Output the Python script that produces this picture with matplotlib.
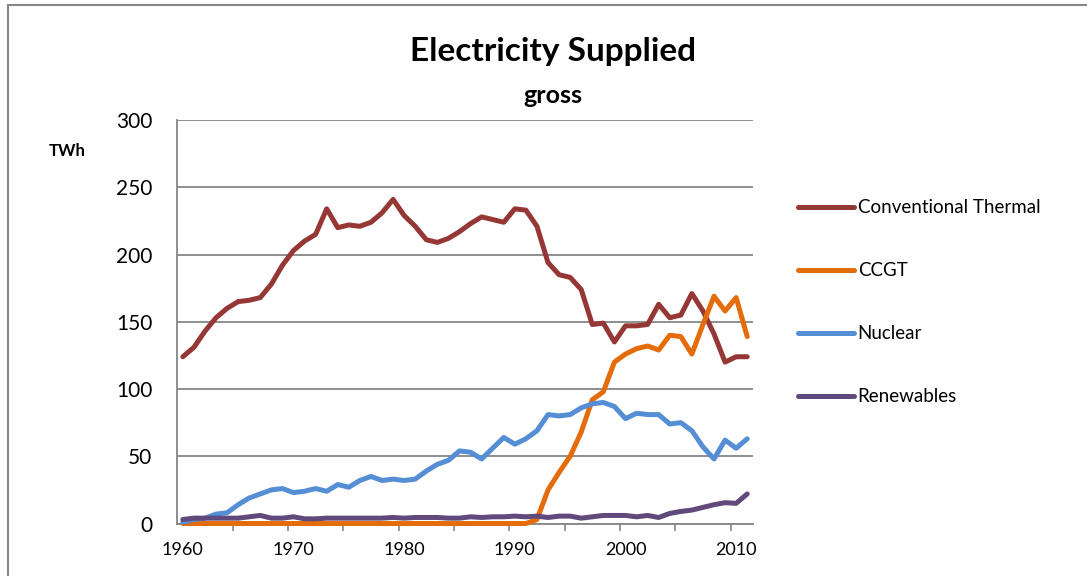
import numpy as np
import matplotlib.pyplot as plt
from matplotlib.patches import Rectangle

plt.rcParams['font.family'] = ['Lato', 'DejaVu Sans']

years = np.arange(1960, 2012)

# TWh supplied per year, 1960-2011
thermal = [124, 131, 143, 153, 160, 165, 166, 168, 178, 192,
           203, 210, 215, 234, 220, 222, 221, 224, 231, 241,
           229, 221, 211, 209, 212, 217, 223, 228, 226, 224,
           234, 233, 221, 194, 185, 183, 174, 148, 149, 135,
           147, 147, 148, 163, 153, 155, 171, 158, 141, 120,
           124, 124]
ccgt = [0, 0, 0, 0, 0, 0, 0, 0, 0, 0,
        0, 0, 0, 0, 0, 0, 0, 0, 0, 0,
        0, 0, 0, 0, 0, 0, 0, 0, 0, 0,
        0, 0, 3, 25, 38, 50, 68, 92, 98, 120,
        126, 130, 132, 129, 140, 139, 126, 148, 169, 158,
        168, 139]
nuclear = [1, 3, 4, 7, 8, 14, 19, 22, 25, 26,
           23, 24, 26, 24, 29, 27, 32, 35, 32, 33,
           32, 33, 39, 44, 47, 54, 53, 48, 56, 64,
           59, 63, 69, 81, 80, 81, 86, 89, 90, 87,
           78, 82, 81, 81, 74, 75, 69, 57, 48, 62,
           56, 63]
renewables = [3, 4, 4, 4, 4, 4, 5, 6, 4, 4,
              5, 3.5, 3.5, 4, 4, 4, 4, 4, 4, 4.5,
              4, 4.5, 4.5, 4.5, 4, 4, 5, 4.5, 5, 5,
              5.5, 5, 5.5, 4.5, 5.5, 5.5, 4, 5, 6, 6,
              6, 5, 6, 4.5, 7.5, 9, 10, 12, 14, 15.5,
              15, 22]

series = [
    ('Conventional Thermal', thermal, '#953735'),
    ('CCGT', ccgt, '#E46C0A'),
    ('Nuclear', nuclear, '#558ED5'),
    ('Renewables', renewables, '#604A7B'),
]

fig = plt.figure(figsize=(10.87, 5.76), dpi=100)
ax = fig.add_axes([0.1631, 0.0911, 0.5294, 0.7005])

for name, vals, col in series:
    ax.plot(years, vals, color=col, lw=3.6, label=name,
            solid_capstyle='round', solid_joinstyle='round', clip_on=False, zorder=3)

ax.set_xlim(1959.5, 2011.5)
ax.set_ylim(0, 300)
ax.set_yticks(np.arange(0, 301, 50))
ax.set_xticks(np.arange(1960, 2011, 10))
ax.set_xticks(np.arange(1964.5, 2011, 5), minor=True)
ax.tick_params(axis='x', which='major', length=0, labelsize=13, pad=13)
ax.tick_params(axis='x', which='minor', length=5, width=1.2, color='#868686', direction='out')
ax.tick_params(axis='y', length=0, labelsize=15, pad=18)
ax.grid(axis='y', color='#868686', lw=1.3, zorder=1)
for side in ['top', 'right']:
    ax.spines[side].set_visible(False)
for side in ['left', 'bottom']:
    ax.spines[side].set_color('#868686')
    ax.spines[side].set_linewidth(1.3)

fig.text(0.509, 0.91, 'Electricity Supplied', ha='center', va='center',
         fontsize=24, fontweight='bold')
fig.text(0.509, 0.834, 'gross', ha='center', va='center',
         fontsize=18, fontweight='bold')
fig.text(0.062, 0.737, 'TWh', ha='center', va='center',
         fontsize=12, fontweight='bold')

ax.legend(loc='upper left', bbox_to_anchor=(0.727, 0.667), bbox_transform=fig.transFigure,
          frameon=False, fontsize=13.5, handlelength=3.0, handletextpad=0.2,
          labelspacing=2.45, borderaxespad=0)

# outer chart border
fig.add_artist(Rectangle((8 / 1087, -0.1), 1.1, 1.1 - 5 / 576,
                         transform=fig.transFigure, fill=False,
                         edgecolor='#868686', lw=1.5))

fig.savefig('out.png', dpi=100)
